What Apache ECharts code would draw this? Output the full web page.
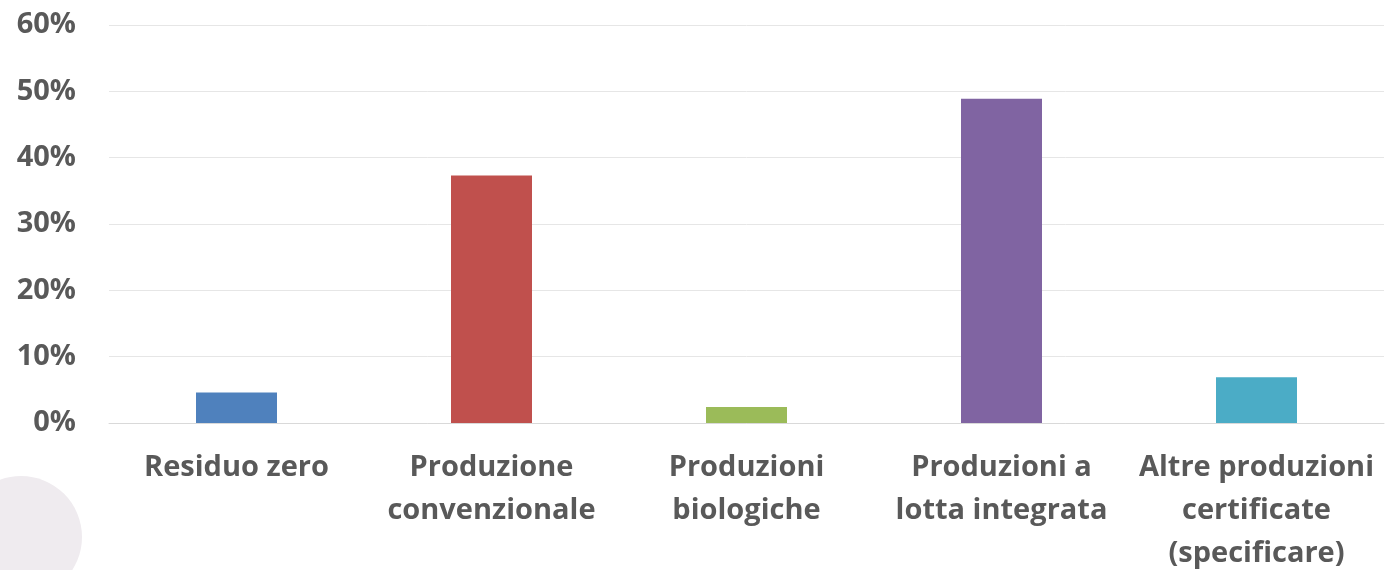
<!DOCTYPE html>
<html><head><meta charset="utf-8">
<script src="https://cdn.jsdelivr.net/npm/echarts@6/dist/echarts.min.js"></script>
<style>html,body{margin:0;padding:0;background:#fff}#c{width:1388px;height:570px}</style>
</head><body><div id="c"></div>
<script>
const categories = ['Residuo zero', 'Produzione\nconvenzionale', 'Produzioni\nbiologiche', 'Produzioni a\nlotta integrata', 'Altre produzioni\ncertificate\n(specificare)'];
const values = [4.6, 37.3, 2.4, 48.9, 6.9];
const colors = ['#4F81BD', '#C0504D', '#9BBB59', '#8064A2', '#4BACC6'];
const yTicks = [0, 10, 20, 30, 40, 50, 60];

const chart = echarts.init(document.getElementById('c'), null, {renderer: 'canvas'});
const font = '"Open Sans", sans-serif';
chart.setOption({
  animation: false,
  backgroundColor: '#fff',
  graphic: [{type: 'circle', shape: {cx: 21, cy: 537, r: 61}, style: {fill: '#EFEBEF'}, z: -1}],
  grid: {left: 109, right: 4, top: 25, bottom: 147, containLabel: false, outerBoundsMode: 'none'},
  xAxis: {
    type: 'category', data: categories,
    axisLine: {lineStyle: {color: '#D9D9D9', width: 1}},
    axisTick: {show: false},
    axisLabel: {color: '#595959', fontFamily: font, fontWeight: 'bold', fontSize: 29, lineHeight: 43, margin: 23, interval: 0}
  },
  yAxis: {
    type: 'value', min: yTicks[0], max: yTicks[yTicks.length - 1], interval: 10,
    axisLine: {show: false}, axisTick: {show: false},
    splitLine: {lineStyle: {color: '#E6E6E6', width: 1}},
    axisLabel: {color: '#595959', fontFamily: font, fontWeight: 'bold', fontSize: 29, margin: 33, formatter: v => v + '%'}
  },
  series: [{
    type: 'bar', barWidth: 81,
    data: values.map((v, i) => ({value: v, itemStyle: {color: colors[i]}}))
  }]
});
</script></body></html>
